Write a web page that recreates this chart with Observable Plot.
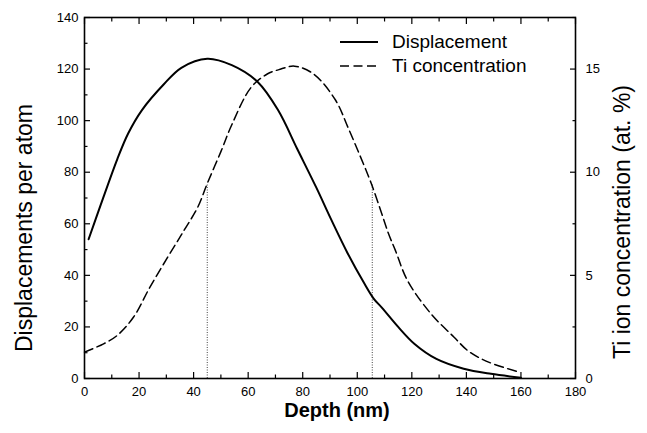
<!DOCTYPE html>
<html><head><meta charset="utf-8">
<script src="https://cdn.jsdelivr.net/npm/d3@7"></script>
<script src="https://cdn.jsdelivr.net/npm/@observablehq/plot@0.6"></script>
<style>
body{margin:0;background:#fff;}
#wrap{position:relative;width:647px;height:433px;font-family:"Liberation Sans",Arial,sans-serif;color:#000;}
#legend{position:absolute;left:338px;top:30px;font-size:19px;line-height:24px;}
#legend div{display:flex;align-items:center;}
#legend svg{margin-right:14px;}
</style></head><body><div id="wrap"><div id="legend"></div></div>
<script>
// Displacement per atom (left axis)
const dispDepth = [1.5, 6, 12, 16, 21, 29, 35.5, 45, 54, 63.5, 71, 78, 85, 90.5, 96.5, 102.5, 106, 109, 115, 121, 129, 139, 149, 160];
const dispValue = [54, 67.5, 85, 95, 104, 114, 120.5, 124, 121.5, 115, 104, 89, 74, 61.5, 48.5, 37, 31, 27.5, 20, 13.4, 7.6, 3.8, 1.8, 0.3];
// Ti concentration, at.% (right axis)
const tiDepth = [0, 7, 12, 18, 24, 30.5, 36.5, 41.5, 45, 50, 54, 61, 67, 72, 77, 84, 92, 96.5, 101, 105, 108.7, 111.5, 114, 118.4, 127, 135.5, 140.5, 145.5, 150, 159.5];
const tiConc = [1.28, 1.68, 2.09, 2.98, 4.43, 5.88, 7.18, 8.3, 9.45, 11.0, 12.3, 14.1, 14.76, 15.0, 15.14, 14.76, 13.5, 12.2, 10.8, 9.5, 8.1, 7.0, 6.2, 4.75, 3.14, 2.0, 1.35, 0.95, 0.7, 0.3];
// vertical marker lines
const markerDepth = [45, 105.5];
const markerConc = [9.45, 9.45];
// ticks
const xTicks = [0, 20, 40, 60, 80, 100, 120, 140, 160, 180];
const xMinor = [10, 30, 50, 70, 90, 110, 130, 150, 170];
const leftTicks = [0, 20, 40, 60, 80, 100, 120, 140];
const leftMinor = [10, 30, 50, 70, 90, 110, 130];
const rightTicks = [0, 5, 10, 15];
const rightMinor = [2.5, 7.5, 12.5, 17.5];
const ratio = 8; // 140 displacements <-> 17.5 at.%
const labels = {x: "Depth (nm)", yl: "Displacements per atom", yr: "Ti ion concentration (at. %)"};
const legendNames = ["Displacement", "Ti concentration"];

const disp = dispDepth.map((d, i) => ({depth: d, value: dispValue[i]}));
const ti = tiDepth.map((d, i) => ({depth: d, conc: tiConc[i]}));
const markers = markerDepth.map((d, i) => ({depth: d, conc: markerConc[i]}));
const toLeft = v => v * ratio;

const tickOpts = {fill: "none", label: null, stroke: "black", strokeWidth: 1.2};
const chart = Plot.plot({
  width: 647, height: 433,
  marginLeft: 84, marginRight: 72, marginTop: 17, marginBottom: 55,
  style: {fontFamily: "'Liberation Sans', Arial, sans-serif", fontSize: "13px", background: "white", color: "black"},
  x: {domain: [0, 180]},
  y: {domain: [0, 140]},
  marks: [
    Plot.ruleX(markers, {x: "depth", y1: 0, y2: d => toLeft(d.conc), stroke: "#444", strokeWidth: 1, strokeDasharray: "1,1.5"}),
    Plot.line(ti, {x: "depth", y: d => toLeft(d.conc), curve: "catmull-rom", stroke: "black", strokeWidth: 1.5, strokeDasharray: "9,4.5"}),
    Plot.line(disp, {x: "depth", y: "value", curve: "catmull-rom", stroke: "black", strokeWidth: 2}),
    Plot.frame({stroke: "black", strokeWidth: 1.6}),
    // inward ticks
    Plot.axisX(xTicks, {anchor: "bottom", tickSize: 6, dy: -6, ...tickOpts}),
    Plot.axisX(xMinor, {anchor: "bottom", tickSize: 3.5, dy: -3.5, ...tickOpts}),
    Plot.axisX(xTicks, {anchor: "top", tickSize: 6, dy: 6, ...tickOpts}),
    Plot.axisX(xMinor, {anchor: "top", tickSize: 3.5, dy: 3.5, ...tickOpts}),
    Plot.axisY(leftTicks, {anchor: "left", tickSize: 6, dx: 6, ...tickOpts}),
    Plot.axisY(leftMinor, {anchor: "left", tickSize: 3.5, dx: 3.5, ...tickOpts}),
    Plot.axisY(rightTicks.map(toLeft), {anchor: "right", tickSize: 6, dx: -6, ...tickOpts}),
    Plot.axisY(rightMinor.map(toLeft), {anchor: "right", tickSize: 3.5, dx: -3.5, ...tickOpts}),
    // tick labels
    Plot.axisX(xTicks, {anchor: "bottom", tickSize: 0, tickPadding: 8, label: null, fontSize: 13}),
    Plot.axisY(leftTicks, {anchor: "left", tickSize: 0, tickPadding: 6, label: null, fontSize: 13}),
    Plot.axisY(rightTicks.map(toLeft), {anchor: "right", tickSize: 0, tickPadding: 10, tickFormat: d => d / ratio, label: null, fontSize: 13}),
    // titles
    Plot.text([labels.yl], {text: d => d, frameAnchor: "left", textAnchor: "middle", lineAnchor: "middle", dx: -60, dy: 30, rotate: -90, fontSize: 23}),
    Plot.text([labels.yr], {text: d => d, frameAnchor: "right", textAnchor: "middle", lineAnchor: "middle", dx: 47, dy: 24, rotate: -90, fontSize: 23}),
    Plot.text([labels.x], {text: d => d, frameAnchor: "bottom", textAnchor: "middle", lineAnchor: "middle", dy: 32, dx: 7, fontSize: 20, fontWeight: "bold"})
  ]
});
document.getElementById("wrap").prepend(chart);

const legend = document.getElementById("legend");
const dashes = [null, "9,4.5"];
const widths = [2, 1.5];
legendNames.forEach((name, i) => {
  const row = document.createElement("div");
  row.innerHTML = `<svg width="40" height="10"><line x1="2" x2="40" y1="5" y2="5" stroke="black" stroke-width="${widths[i]}" ${dashes[i] ? `stroke-dasharray="${dashes[i]}"` : ""}/></svg><span>${name}</span>`;
  legend.appendChild(row);
});
</script></body></html>
